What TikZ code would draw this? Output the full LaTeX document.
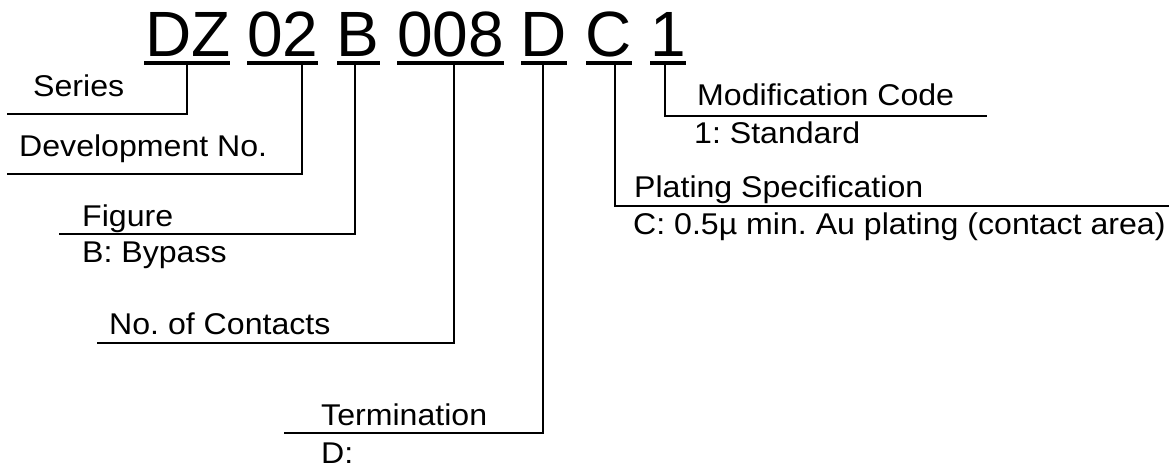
\documentclass[tikz,border=0pt]{standalone}
\usepackage{fontspec}
\setmainfont{Liberation Sans}
\newfontfamily\labfont[FakeStretch=1.07]{Liberation Sans}
\frenchspacing
\begin{document}
\begin{tikzpicture}[x=1pt,y=-1pt,
  code/.style={anchor=base,inner sep=0pt,font=\fontsize{64}{64}\selectfont},
  lab/.style={anchor=base west,inner sep=0pt,font=\labfont\frenchspacing\fontsize{30}{30}\selectfont},
  uline/.style={line width=3.5pt},
  conn/.style={line width=2.3pt}]
\useasboundingbox (0,0) rectangle (1171,470);
% code characters
\node[code] (cDZ) at (188,57) {DZ};
\node[code] (c02) at (283,57) {02};
\node[code] (cB) at (357.5,57) {B};
\node[code] (c008) at (450.5,57) {008};
\node[code] (cD) at (544,57) {D};
\node[code] (cC) at (609,57) {C};
\node[code] (c1) at (668.5,57) {1};
% underlines
\coordinate (uDZa) at (144,63); \coordinate (uDZb) at (230,63);
\coordinate (u02a) at (247,63); \coordinate (u02b) at (318,63);
\coordinate (uBa) at (337,63); \coordinate (uBb) at (380,63);
\coordinate (u008a) at (397,63); \coordinate (u008b) at (504,63);
\coordinate (uDa) at (521,63); \coordinate (uDb) at (567,63);
\coordinate (uCa) at (586,63); \coordinate (uCb) at (632,63);
\coordinate (u1a) at (650,63); \coordinate (u1b) at (686,63);
\draw[uline] (uDZa) -- (uDZb);
\draw[uline] (u02a) -- (u02b);
\draw[uline] (uBa) -- (uBb);
\draw[uline] (u008a) -- (u008b);
\draw[uline] (uDa) -- (uDb);
\draw[uline] (uCa) -- (uCb);
\draw[uline] (u1a) -- (u1b);
% labels
\node[lab] (series) at (33,97) {Series};
\node[lab] (devno) at (19,157) {Development No.};
\node[lab] (figure) at (82,227) {Figure};
\node[lab] (figB) at (82,263) {B: Bypass};
\node[lab] (contacts) at (109,335) {No. of Contacts};
\node[lab] (term) at (321,425) {Termination};
\node[lab] (termD) at (321,464) {D:};
\node[lab] (modif) at (697,106) {Modification Code};
\node[lab] (modstd) at (694,144) {1: Standard};
\node[lab] (plating) at (634,198) {Plating Specification};
\node[lab] (platC) at (633,235) {C: 0.5µ min. Au plating (contact area)};
% connectors
\coordinate (sDZ) at (187,63);  \coordinate (eDZ) at (7,114);
\coordinate (s02) at (302,63);  \coordinate (e02) at (7,174);
\coordinate (sB) at (355,63);   \coordinate (eB) at (59,234);
\coordinate (s008) at (454,63); \coordinate (e008) at (97,343);
\coordinate (sD) at (543,63);   \coordinate (eD) at (284,433);
\coordinate (sC) at (615,63);   \coordinate (eC) at (1169,206);
\coordinate (s1) at (665,63);   \coordinate (e1) at (987,116);
\draw[conn] (sDZ) |- (eDZ);
\draw[conn] (s02) |- (e02);
\draw[conn] (sB) |- (eB);
\draw[conn] (s008) |- (e008);
\draw[conn] (sD) |- (eD);
\draw[conn] (sC) |- (eC);
\draw[conn] (s1) |- (e1);
\end{tikzpicture}
\end{document}
